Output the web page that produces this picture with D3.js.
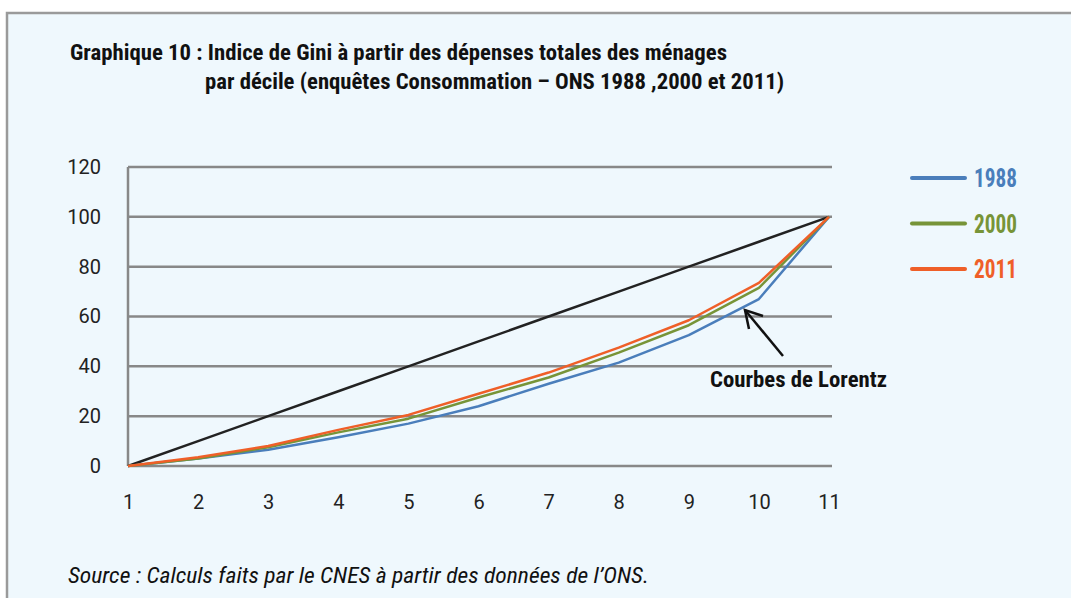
<!DOCTYPE html>
<html><head><meta charset="utf-8">
<script src="https://cdn.jsdelivr.net/npm/d3@7"></script>
<style>
html,body{margin:0;padding:0;background:#fff;}
svg{display:block;}
.cond{font-family:"Liberation Sans Narrow","Roboto Condensed","DejaVu Sans Condensed",sans-serif;}
</style></head>
<body>
<script>
const deciles = [1,2,3,4,5,6,7,8,9,10,11];
const equality = [0,10,20,30,40,50,60,70,80,90,100];
const s1988 = [0,3,6.5,11.5,17,24,33,41.5,52.5,67,100];
const s2000 = [0,3,7.5,13.5,19,27.5,35.5,45.5,56.5,71.5,100];
const s2011 = [0,3.5,8,14.5,20.5,29,37.5,47.5,58.5,73.5,100];
const yTicks = [0,20,40,60,80,100,120];
const seriesNames = ["1988","2000","2011"];
const seriesColors = ["#4a7ebb","#779438","#ef5f28"];
const titleLines = ["Graphique 10 : Indice de Gini à partir des dépenses totales des ménages",
                    "par décile (enquêtes Consommation – ONS 1988 ,2000 et 2011)"];
const annotation = "Courbes de Lorentz";
const source = "Source : Calculs faits par le CNES à partir des données de l’ONS.";

const W=1071,H=598;
const svg=d3.select("body").append("svg").attr("width",W).attr("height",H);
svg.append("rect").attr("x",7).attr("y",13).attr("width",W+10).attr("height",H+10)
  .attr("fill","#eff8fd").attr("stroke","#9a9a9a").attr("stroke-width",2.5);

const x=d3.scaleLinear().domain([1,11]).range([128,829]);
const y=d3.scaleLinear().domain([0,120]).range([466,167]);

// gridlines
svg.append("g").selectAll("line").data(yTicks).join("line")
  .attr("x1",x(1)).attr("x2",x(11)+3).attr("y1",d=>y(d)).attr("y2",d=>y(d))
  .attr("stroke","#888").attr("stroke-width",2.5);
svg.append("line").attr("x1",x(1)).attr("x2",x(1)).attr("y1",y(120)).attr("y2",y(0))
  .attr("stroke","#888").attr("stroke-width",2.5);

const tickFont="Roboto, 'Liberation Sans', sans-serif";
const yAxis=d3.axisLeft(y).tickValues(yTicks).tickSize(0).tickPadding(27);
const gy=svg.append("g").attr("transform",`translate(${x(1)},0)`).call(yAxis);
gy.select(".domain").remove();
gy.selectAll("text").attr("font-family",tickFont).attr("font-size",20).attr("fill","#222").attr("font-weight",400);

const xAxis=d3.axisBottom(x).tickValues(deciles).tickFormat(d3.format("d")).tickSize(0).tickPadding(29);
const gx=svg.append("g").attr("transform",`translate(0,${y(0)})`).call(xAxis);
gx.select(".domain").remove();
gx.selectAll("text").attr("font-family",tickFont).attr("font-size",20).attr("fill","#222").attr("font-weight",400);

const line=d3.line().x((d,i)=>x(deciles[i])).y(d=>y(d));
svg.append("path").datum(equality).attr("d",line).attr("fill","none").attr("stroke","#222").attr("stroke-width",2.5);
[s1988,s2000,s2011].forEach((s,i)=>{
  svg.append("path").datum(s).attr("d",line).attr("fill","none")
    .attr("stroke",seriesColors[i]).attr("stroke-width",2.5).attr("stroke-linejoin","round");
});

// legend
const leg=svg.append("g");
seriesNames.forEach((n,i)=>{
  const ly=178+i*45.5;
  leg.append("line").attr("x1",912).attr("x2",965).attr("y1",ly).attr("y2",ly)
    .attr("stroke",seriesColors[i]).attr("stroke-width",4).attr("stroke-linecap","round");
  leg.append("text").attr("class","cond").attr("x",974).attr("y",ly+9)
    .attr("font-size",25).attr("font-weight","bold").attr("fill",seriesColors[i])
    .attr("textLength",43).attr("lengthAdjust","spacingAndGlyphs").text(n);
});

// title
svg.append("text").attr("class","cond").attr("x",70).attr("y",60).attr("font-size",22)
  .attr("font-weight","bold").attr("fill","#111")
  .attr("textLength",657).attr("lengthAdjust","spacingAndGlyphs").text(titleLines[0]);
svg.append("text").attr("class","cond").attr("x",205).attr("y",89).attr("font-size",22)
  .attr("font-weight","bold").attr("fill","#111")
  .attr("textLength",579).attr("lengthAdjust","spacingAndGlyphs").text(titleLines[1]);

// annotation
svg.append("text").attr("class","cond").attr("x",710).attr("y",387).attr("font-size",22)
  .attr("font-weight","bold").attr("fill","#111")
  .attr("textLength",177).attr("lengthAdjust","spacingAndGlyphs").text(annotation);
const tail=[783,356], tip=[745,310];
svg.append("line").attr("x1",tail[0]).attr("y1",tail[1]).attr("x2",tip[0]).attr("y2",tip[1])
  .attr("stroke","#111").attr("stroke-width",2.5);
svg.append("path").attr("d",`M${763},${316} L${tip[0]},${tip[1]} L${749},${329}`)
  .attr("fill","none").attr("stroke","#111").attr("stroke-width",2.5);

// source
svg.append("text").attr("class","cond").attr("x",68).attr("y",583).attr("font-size",22)
  .attr("font-style","italic").attr("fill","#111")
  .attr("textLength",581).attr("lengthAdjust","spacingAndGlyphs").text(source);
</script>
</body></html>
